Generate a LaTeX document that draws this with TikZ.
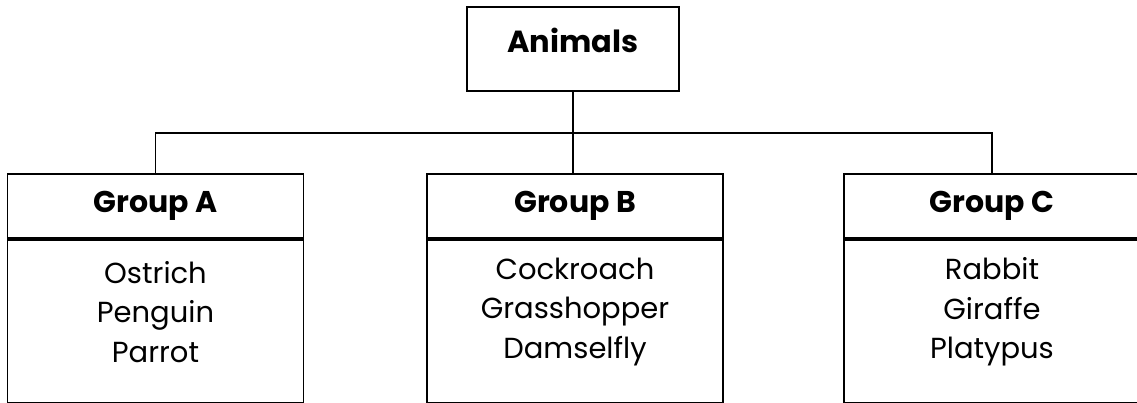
\documentclass[tikz,border=0pt]{standalone}
\usepackage{fontspec}
\setmainfont{Poppins}
\begin{document}
\begin{tikzpicture}[x=1pt,y=1pt,
  box/.style={draw, line width=1.7pt, rectangle, inner sep=0pt},
  head/.style={box, minimum width=296pt, minimum height=64pt,
    font=\fontsize{30}{34}\selectfont\bfseries},
  body/.style={box, minimum width=296pt, minimum height=163pt},
  items/.style={align=center, inner sep=0pt, font=\fontsize{29}{39.5}\selectfont},
  link/.style={line width=1.5pt}
]
\useasboundingbox (0,0) rectangle (1137,403);
% top box
\node[box, minimum width=212pt, minimum height=84pt] (animals) at (573,354) {};
\node[font=\fontsize{30.5}{34}\selectfont\bfseries] (animalsT) at (573,363) {Animals};
% group A
\node[head] (Ahead) at (155.5,197) {Group A};
\node[body, anchor=north] (Abody) at (Ahead.south) {};
\node[items] (Aitems) at (155.5,91) {Ostrich\\Penguin\\Parrot};
% group B
\node[head] (Bhead) at (575,197) {Group B};
\node[body, anchor=north] (Bbody) at (Bhead.south) {};
\node[items] (Bitems) at (575,91) {Cockroach\\Grasshopper\\Damselfly};
% group C
\node[head] (Chead) at (992,197) {Group C};
\node[body, anchor=north] (Cbody) at (Chead.south) {};
\node[items] (Citems) at (992,91) {Rabbit\\Giraffe\\Platypus};
% connectors
\coordinate (bar) at (573,270);
\draw[link] (Ahead.north) |- (bar) -| (Chead.north);
\draw[line width=2.6pt] (animals.south) -- (animals.south |- Bhead.north);
\end{tikzpicture}
\end{document}
